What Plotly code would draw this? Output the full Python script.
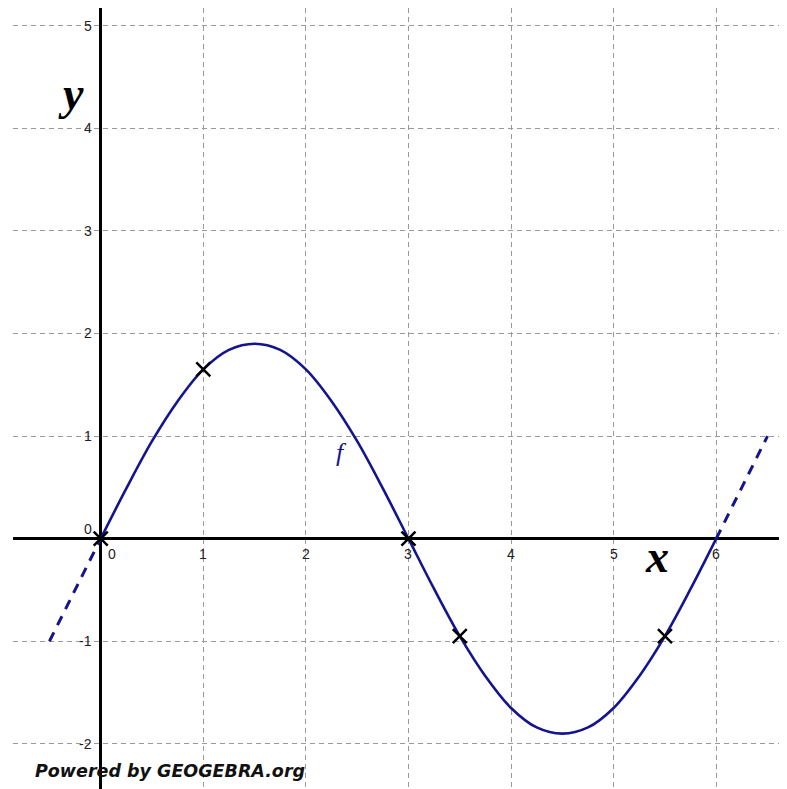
import plotly.graph_objects as go

# Curve f
curve_x = [0, 0.25, 0.5, 0.75, 1, 1.25, 1.5, 1.75, 2, 2.25, 2.5, 2.75, 3,
           3.25, 3.5, 3.75, 4, 4.25, 4.5, 4.75, 5, 5.25, 5.5, 5.75, 6]
curve_y = [0, 0.49, 0.95, 1.34, 1.65, 1.84, 1.9, 1.84, 1.65, 1.34, 0.95, 0.49, 0,
           -0.49, -0.95, -1.34, -1.65, -1.84, -1.9, -1.84, -1.65, -1.34, -0.95, -0.49, 0]

# Dashed extensions
left_x = [-0.5, 0]
left_y = [-1, 0]
right_x = [6, 6.5]
right_y = [0, 1]

# Marked points
mark_x = [0, 1, 3, 3.5, 5.5]
mark_y = [0, 1.65, 0, -0.95, -0.95]

# Tick labels
x_ticks = [1, 2, 3, 4, 5, 6]
y_ticks = [-2, -1, 1, 2, 3, 4, 5]

CURVE = "#14148f"

fig = go.Figure()
fig.add_trace(go.Scatter(x=curve_x, y=curve_y, mode="lines",
                         line=dict(color=CURVE, width=2.6, shape="spline", smoothing=1.0),
                         hoverinfo="skip", showlegend=False))
for xs, ys in [(left_x, left_y), (right_x, right_y)]:
    fig.add_trace(go.Scatter(x=xs, y=ys, mode="lines",
                             line=dict(color=CURVE, width=3, dash="10px,8px"),
                             hoverinfo="skip", showlegend=False))
fig.add_trace(go.Scatter(x=mark_x, y=mark_y, mode="markers",
                         marker=dict(symbol="x-thin", size=14,
                                     line=dict(color="black", width=2.5)),
                         hoverinfo="skip", showlegend=False))

tick_font = dict(family="Liberation Sans, Arial, sans-serif", size=14, color="#222222")
ann = []
for t in x_ticks:
    ann.append(dict(x=t, y=0, text=str(t), showarrow=False, xanchor="center",
                    yanchor="top", yshift=-5, font=tick_font))
for t in y_ticks:
    ann.append(dict(x=0, y=t, text=str(t), showarrow=False, xanchor="right",
                    yanchor="middle", xshift=-7, font=tick_font))
ann.append(dict(x=0, y=0, text="0", showarrow=False, xanchor="right",
                yanchor="bottom", xshift=-7, yshift=0, font=tick_font))
ann.append(dict(x=0, y=0, text="0", showarrow=False, xanchor="left",
                yanchor="top", xshift=5, yshift=-5, font=tick_font))

label_font = dict(family="Liberation Serif, DejaVu Serif, serif", size=46, color="black")
ann.append(dict(x=-0.29, y=4.34, text="<b><i>y</i></b>", showarrow=False,
                xanchor="center", yanchor="middle", font=label_font))
ann.append(dict(x=5.42, y=-0.17, text="<b><i>x</i></b>", showarrow=False,
                xanchor="center", yanchor="middle", font=label_font))
ann.append(dict(x=2.35, y=0.84, text="<i>f</i>", showarrow=False,
                xanchor="center", yanchor="middle",
                font=dict(family="Liberation Serif, DejaVu Serif, serif", size=26, color=CURVE)))
ann.append(dict(x=-0.66, y=-2.264, text="<b><i>Powered by GEOGEBRA.org</i></b>",
                showarrow=False, xanchor="left", yanchor="middle",
                font=dict(family="DejaVu Sans, Verdana, sans-serif", size=17.5, color="#111111")))

axis_common = dict(dtick=1, tick0=0, showgrid=True, gridcolor="#9a9a9a", gridwidth=1,
                   griddash="5px,4px", zeroline=True, zerolinecolor="black",
                   zerolinewidth=3, showticklabels=False, ticks="", showline=False,
                   fixedrange=True)

# The page body adds an 8px offset, so the figure is sized to the visible area
fig.update_layout(
    width=779, height=781,
    margin=dict(l=5, r=0, t=0, b=0),
    paper_bgcolor="white", plot_bgcolor="white",
    xaxis=dict(range=[-0.855, 6.69], **axis_common),
    yaxis=dict(range=[-2.44, 5.172], **axis_common),
    annotations=ann,
    showlegend=False,
)

fig.write_html("out.html")
